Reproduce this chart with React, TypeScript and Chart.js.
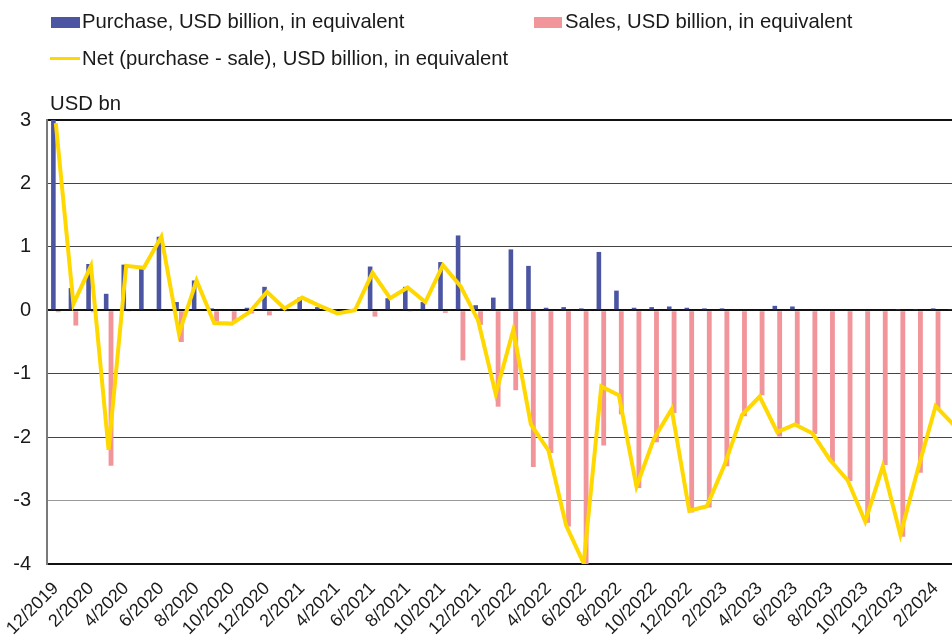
import React, { useEffect, useRef } from 'react';
import { Chart, registerables } from 'chart.js';

Chart.register(...registerables);

const MONTHS = [
  '12/2019',
  '1/2020', '2/2020', '3/2020', '4/2020', '5/2020', '6/2020', '7/2020', '8/2020', '9/2020', '10/2020', '11/2020', '12/2020',
  '1/2021', '2/2021', '3/2021', '4/2021', '5/2021', '6/2021', '7/2021', '8/2021', '9/2021', '10/2021', '11/2021', '12/2021',
  '1/2022', '2/2022', '3/2022', '4/2022', '5/2022', '6/2022', '7/2022', '8/2022', '9/2022', '10/2022', '11/2022', '12/2022',
  '1/2023', '2/2023', '3/2023', '4/2023', '5/2023', '6/2023', '7/2023', '8/2023', '9/2023', '10/2023', '11/2023', '12/2023',
  '1/2024', '2/2024', '3/2024',
];

const PURCHASE = [
  3.0, 0.35, 0.73, 0.26, 0.72, 0.65, 1.16, 0.13, 0.47, 0.03,
  0.0, 0.04, 0.37, 0.03, 0.2, 0.05, 0.01, 0.01, 0.69, 0.19,
  0.37, 0.13, 0.76, 1.18, 0.08, 0.2, 0.96, 0.7, 0.04, 0.05,
  0.03, 0.92, 0.31, 0.04, 0.05, 0.06, 0.04, 0.03, 0.03, 0.0,
  0.0, 0.07, 0.06, 0.0, 0.0, 0.0, 0.0, 0.0, 0.01, 0.02,
  0.03, 0.02,
];

const SALES = [
  -0.03, -0.24, -0.03, -2.45, -0.02, 0, 0, -0.5, 0, -0.18,
  -0.18, -0.05, -0.08, -0.01, 0, 0, -0.05, 0, -0.1, 0,
  -0.01, 0, -0.04, -0.79, -0.23, -1.52, -1.26, -2.47, -2.25, -3.41,
  -4.0, -2.13, -1.64, -2.8, -2.08, -1.62, -3.19, -3.11, -2.46, -1.67,
  -1.34, -1.99, -1.8, -1.95, -2.39, -2.69, -3.35, -2.44, -3.57, -2.56,
  -1.55, -1.82,
];

const NET = [
  2.95, 0.1, 0.7, -2.2, 0.7, 0.67, 1.16, -0.37, 0.47, -0.2,
  -0.21, -0.03, 0.29, 0.03, 0.2, 0.07, -0.05, 0.0, 0.59, 0.19,
  0.36, 0.13, 0.71, 0.38, -0.16, -1.32, -0.31, -1.8, -2.21, -3.39,
  -3.99, -1.2, -1.34, -2.78, -2.02, -1.56, -3.16, -3.09, -2.44, -1.65,
  -1.36, -1.92, -1.8, -1.94, -2.36, -2.68, -3.33, -2.46, -3.54, -2.5,
  -1.51, -1.8,
];

const Y_MIN = -4;
const Y_MAX = 3;

const PURCHASE_LABEL = 'Purchase, USD billion, in equivalent';
const SALES_LABEL = 'Sales, USD billion, in equivalent';
const NET_LABEL = 'Net (purchase - sale), USD billion, in equivalent';
const UNIT_LABEL = 'USD bn';

const PURCHASE_COLOR = '#4b55a2';
const SALES_COLOR = '#f1959b';
const NET_COLOR = '#ffd800';

const FONT = 'Arial, "Liberation Sans", sans-serif';
const TEXT = '#1a1a1a';

export default function App() {
  const ref = useRef<HTMLCanvasElement>(null);

  useEffect(() => {
    const canvas = ref.current!;
    const chart = new Chart(canvas, {
      type: 'bar',
      data: {
        labels: MONTHS,
        datasets: [
          {
            type: 'line',
            label: NET_LABEL,
            data: NET,
            borderColor: NET_COLOR,
            backgroundColor: NET_COLOR,
            borderWidth: 4,
            pointRadius: 0,
            tension: 0,
            order: 0,
          } as any,
          {
            type: 'bar',
            label: PURCHASE_LABEL,
            data: PURCHASE,
            backgroundColor: PURCHASE_COLOR,
            categoryPercentage: 0.55,
            barPercentage: 0.95,
            order: 1,
          },
          {
            type: 'bar',
            label: SALES_LABEL,
            data: SALES,
            backgroundColor: SALES_COLOR,
            categoryPercentage: 0.55,
            barPercentage: 1.0,
            order: 1,
          },
        ],
      },
      options: {
        responsive: false,
        animation: false,
        devicePixelRatio: 1,
        layout: { padding: { top: 120, right: 0, left: 0, bottom: 0 } },
        plugins: {
          legend: { display: false },
          tooltip: { enabled: false },
        },
        scales: {
          x: {
            offset: true,
            grid: { display: false },
            border: { display: false },
            ticks: {
              autoSkip: false,
              minRotation: 45,
              maxRotation: 45,
              padding: 6,
              color: TEXT,
              font: { family: FONT, size: 18 },
              callback: (_v: any, i: number) => (i % 2 === 0 ? MONTHS[i] : ''),
            },
            afterFit: (s: any) => {
              s.height = 79;
              s.paddingLeft = 0;
              s.paddingRight = 0;
            },
          },
          y: {
            min: Y_MIN,
            max: Y_MAX,
            ticks: {
              stepSize: 1,
              padding: 16,
              color: TEXT,
              font: { family: FONT, size: 20 },
            },
            grid: {
              drawTicks: false,
              color: (ctx: any) => {
                const v = ctx.tick?.value;
                if (v === 0 || v === Y_MAX || v === Y_MIN) return '#111';
                if (v === -3) return '#999';
                return '#444';
              },
              lineWidth: (ctx: any) => {
                const v = ctx.tick?.value;
                if (v === 0 || v === Y_MAX || v === Y_MIN) return 2;
                return 1;
              },
            },
            border: { display: true, color: '#7a7a7a', width: 2 },
            afterFit: (s: any) => {
              s.width = 47;
              s.paddingTop = 0;
              s.paddingBottom = 0;
            },
          },
        },
      },
    });
    return () => chart.destroy();
  }, []);

  const textStyle: React.CSSProperties = {
    position: 'absolute',
    fontFamily: FONT,
    fontSize: 20.3,
    lineHeight: '20px',
    color: TEXT,
    whiteSpace: 'nowrap',
  };

  return (
    <div
      style={{
        position: 'fixed',
        left: 0,
        top: 0,
        width: 952,
        height: 643,
        overflow: 'hidden',
        background: '#fff',
      }}
    >
      <canvas ref={ref} width={962} height={643} style={{ position: 'absolute', left: 0, top: 0, width: 962, height: 643 }} />
      <div style={{ position: 'absolute', left: 51, top: 17, width: 29, height: 11, background: PURCHASE_COLOR }} />
      <div style={{ ...textStyle, left: 82, top: 11 }}>{PURCHASE_LABEL}</div>
      <div style={{ position: 'absolute', left: 534, top: 17, width: 28, height: 11, background: SALES_COLOR }} />
      <div style={{ ...textStyle, left: 565, top: 11 }}>{SALES_LABEL}</div>
      <div style={{ position: 'absolute', left: 50, top: 57, width: 30, height: 3, background: NET_COLOR }} />
      <div style={{ ...textStyle, left: 82, top: 48 }}>{NET_LABEL}</div>
      <div style={{ ...textStyle, left: 50, top: 93 }}>{UNIT_LABEL}</div>
    </div>
  );
}
